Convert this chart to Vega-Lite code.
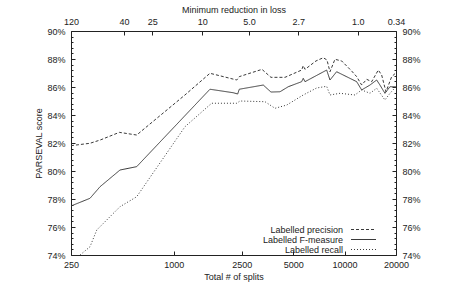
{
  "$schema": "https://vega.github.io/schema/vega-lite/v6.json",
  "width": 325,
  "height": 224,
  "autosize": {"type": "none"},
  "padding": {"left": 71, "top": 31, "right": 71, "bottom": 29},
  "background": "white",
  "config": {
    "font": "Liberation Sans",
    "view": {"stroke": "#222", "strokeWidth": 1},
    "axis": {
      "labelFont": "Liberation Sans", "labelFontSize": 9, "labelColor": "#222",
      "titleFont": "Liberation Sans", "titleFontSize": 9, "titleFontWeight": "normal", "titleColor": "#222",
      "grid": false, "domain": false, "tickColor": "#222", "tickWidth": 1, "tickSize": -4,
      "labelFlush": false, "labelOverlap": false, "labelPadding": 9, "titlePadding": 3
    },
    "axisY": {"labelPadding": 10},
    "legend": {
      "labelFont": "Liberation Sans", "labelFontSize": 9, "labelColor": "#222"
    }
  },
  "datasets": {
    "scores": [
      {"series": "Labelled precision", "splits": 250, "score": 81.81},
      {"series": "Labelled precision", "splits": 323, "score": 81.98},
      {"series": "Labelled precision", "splits": 370, "score": 82.21},
      {"series": "Labelled precision", "splits": 480, "score": 82.76},
      {"series": "Labelled precision", "splits": 606, "score": 82.57},
      {"series": "Labelled precision", "splits": 1162, "score": 85.43},
      {"series": "Labelled precision", "splits": 1628, "score": 86.98},
      {"series": "Labelled precision", "splits": 2336, "score": 86.5},
      {"series": "Labelled precision", "splits": 2417, "score": 86.74},
      {"series": "Labelled precision", "splits": 3283, "score": 87.26},
      {"series": "Labelled precision", "splits": 3705, "score": 86.69},
      {"series": "Labelled precision", "splits": 4476, "score": 86.69},
      {"series": "Labelled precision", "splits": 5605, "score": 87.21},
      {"series": "Labelled precision", "splits": 5727, "score": 87.52},
      {"series": "Labelled precision", "splits": 5863, "score": 87.26},
      {"series": "Labelled precision", "splits": 6799, "score": 87.86},
      {"series": "Labelled precision", "splits": 7501, "score": 88.09},
      {"series": "Labelled precision", "splits": 7885, "score": 87.93},
      {"series": "Labelled precision", "splits": 8212, "score": 87.09},
      {"series": "Labelled precision", "splits": 8780, "score": 87.98},
      {"series": "Labelled precision", "splits": 9612, "score": 87.86},
      {"series": "Labelled precision", "splits": 11000, "score": 87.14},
      {"series": "Labelled precision", "splits": 11767, "score": 86.74},
      {"series": "Labelled precision", "splits": 12588, "score": 86.14},
      {"series": "Labelled precision", "splits": 13470, "score": 86.55},
      {"series": "Labelled precision", "splits": 14410, "score": 86.38},
      {"series": "Labelled precision", "splits": 15750, "score": 87.21},
      {"series": "Labelled precision", "splits": 16480, "score": 86.86},
      {"series": "Labelled precision", "splits": 17470, "score": 85.66},
      {"series": "Labelled precision", "splits": 18870, "score": 86.74},
      {"series": "Labelled precision", "splits": 20000, "score": 87.02},

      {"series": "Labelled F-measure", "splits": 250, "score": 77.5},
      {"series": "Labelled F-measure", "splits": 323, "score": 78.05},
      {"series": "Labelled F-measure", "splits": 370, "score": 78.88},
      {"series": "Labelled F-measure", "splits": 484, "score": 80.07},
      {"series": "Labelled F-measure", "splits": 606, "score": 80.31},
      {"series": "Labelled F-measure", "splits": 1628, "score": 85.84},
      {"series": "Labelled F-measure", "splits": 2229, "score": 85.59},
      {"series": "Labelled F-measure", "splits": 2366, "score": 85.5},
      {"series": "Labelled F-measure", "splits": 2417, "score": 85.84},
      {"series": "Labelled F-measure", "splits": 3341, "score": 86.14},
      {"series": "Labelled F-measure", "splits": 3705, "score": 85.64},
      {"series": "Labelled F-measure", "splits": 4185, "score": 85.66},
      {"series": "Labelled F-measure", "splits": 4680, "score": 86.02},
      {"series": "Labelled F-measure", "splits": 5605, "score": 86.38},
      {"series": "Labelled F-measure", "splits": 5727, "score": 86.62},
      {"series": "Labelled F-measure", "splits": 5863, "score": 86.38},
      {"series": "Labelled F-measure", "splits": 7853, "score": 87.21},
      {"series": "Labelled F-measure", "splits": 8212, "score": 86.5},
      {"series": "Labelled F-measure", "splits": 8980, "score": 87.09},
      {"series": "Labelled F-measure", "splits": 11767, "score": 86.38},
      {"series": "Labelled F-measure", "splits": 12588, "score": 85.79},
      {"series": "Labelled F-measure", "splits": 14080, "score": 86.14},
      {"series": "Labelled F-measure", "splits": 15410, "score": 86.5},
      {"series": "Labelled F-measure", "splits": 16110, "score": 86.14},
      {"series": "Labelled F-measure", "splits": 17230, "score": 85.55},
      {"series": "Labelled F-measure", "splits": 18440, "score": 86.02},
      {"series": "Labelled F-measure", "splits": 20000, "score": 86.02},

      {"series": "Labelled recall", "splits": 250, "score": 73.46},
      {"series": "Labelled recall", "splits": 323, "score": 74.59},
      {"series": "Labelled recall", "splits": 354, "score": 75.79},
      {"series": "Labelled recall", "splits": 484, "score": 77.45},
      {"series": "Labelled recall", "splits": 606, "score": 78.16},
      {"series": "Labelled recall", "splits": 1162, "score": 83.16},
      {"series": "Labelled recall", "splits": 1666, "score": 84.84},
      {"series": "Labelled recall", "splits": 2336, "score": 84.84},
      {"series": "Labelled recall", "splits": 2440, "score": 85.0},
      {"series": "Labelled recall", "splits": 3418, "score": 84.95},
      {"series": "Labelled recall", "splits": 3912, "score": 84.48},
      {"series": "Labelled recall", "splits": 4579, "score": 84.71},
      {"series": "Labelled recall", "splits": 5727, "score": 85.43},
      {"series": "Labelled recall", "splits": 6862, "score": 85.93},
      {"series": "Labelled recall", "splits": 7853, "score": 86.05},
      {"series": "Labelled recall", "splits": 8212, "score": 85.43},
      {"series": "Labelled recall", "splits": 9396, "score": 85.55},
      {"series": "Labelled recall", "splits": 11500, "score": 85.43},
      {"series": "Labelled recall", "splits": 12588, "score": 85.79},
      {"series": "Labelled recall", "splits": 14080, "score": 85.55},
      {"series": "Labelled recall", "splits": 15410, "score": 85.91},
      {"series": "Labelled recall", "splits": 17230, "score": 85.07},
      {"series": "Labelled recall", "splits": 18440, "score": 85.55},
      {"series": "Labelled recall", "splits": 20000, "score": 86.02}
    ]
  },
  "layer": [
    {
      "data": {"name": "scores"},
      "mark": {"type": "line", "clip": true, "strokeWidth": 1, "color": "#3a3a3a"},
      "encoding": {
        "x": {
          "field": "splits", "type": "quantitative",
          "scale": {"type": "log", "domain": [250, 20000], "nice": false},
          "axis": {"orient": "bottom", "values": [250, 1000, 2500, 5000, 10000, 20000], "format": "d", "title": "Total # of splits"}
        },
        "y": {
          "field": "score", "type": "quantitative",
          "scale": {"domain": [74, 90], "nice": false, "zero": false},
          "axis": {
            "orient": "left",
            "values": [74, 74.4, 74.8, 75.2, 75.6, 76, 76.4, 76.8, 77.2, 77.6, 78, 78.4, 78.8, 79.2, 79.6, 80, 80.4, 80.8, 81.2, 81.6, 82, 82.4, 82.8, 83.2, 83.6, 84, 84.4, 84.8, 85.2, 85.6, 86, 86.4, 86.8, 87.2, 87.6, 88, 88.4, 88.8, 89.2, 89.6, 90],
            "labelExpr": "abs(datum.value - round(datum.value)) < 0.01 ? round(datum.value) + '%' : ''",
            "tickSize": {"condition": {"test": "abs(datum.value - round(datum.value)) < 0.01", "value": -4}, "value": -2},
            "title": "PARSEVAL score"
          }
        },
        "strokeDash": {
          "field": "series", "type": "nominal",
          "scale": {"domain": ["Labelled precision", "Labelled F-measure", "Labelled recall"], "range": [[3, 2], [1, 0], [1, 2]]},
          "legend": {
            "title": null, "orient": "none", "legendX": 188, "legendY": 194,
            "symbolType": "M-5,0H5", "symbolSize": 25, "symbolStrokeWidth": 1,
            "symbolStrokeColor": "#3a3a3a", "symbolFillColor": "transparent",
            "labelFontSize": 9, "labelAlign": "right", "labelOffset": -25, "symbolOffset": 100,
            "rowPadding": -1.3, "padding": 0
          }
        }
      }
    },
    {
      "data": {"name": "scores"},
      "mark": {"type": "line", "opacity": 0},
      "encoding": {
        "x": {
          "field": "splits", "type": "quantitative",
          "scale": {"type": "log", "domain": [250, 20000], "nice": false},
          "axis": {
            "orient": "top", "values": [250, 511, 748, 1468, 2755, 5355, 11930, 20000],
            "labelExpr": "datum.value < 300 ? '120' : datum.value < 600 ? '40' : datum.value < 1000 ? '25' : datum.value < 2000 ? '10' : datum.value < 4000 ? '5.0' : datum.value < 8000 ? '2.7' : datum.value < 15000 ? '1.0' : '0.34'",
            "title": "Minimum reduction in loss"
          }
        },
        "y": {
          "field": "score", "type": "quantitative",
          "scale": {"domain": [74, 90], "nice": false, "zero": false},
          "axis": {
            "orient": "right",
            "values": [74, 74.4, 74.8, 75.2, 75.6, 76, 76.4, 76.8, 77.2, 77.6, 78, 78.4, 78.8, 79.2, 79.6, 80, 80.4, 80.8, 81.2, 81.6, 82, 82.4, 82.8, 83.2, 83.6, 84, 84.4, 84.8, 85.2, 85.6, 86, 86.4, 86.8, 87.2, 87.6, 88, 88.4, 88.8, 89.2, 89.6, 90],
            "labelExpr": "abs(datum.value - round(datum.value)) < 0.01 ? round(datum.value) + '%' : ''",
            "tickSize": {"condition": {"test": "abs(datum.value - round(datum.value)) < 0.01", "value": -4}, "value": -2},
            "title": null
          }
        },
        "detail": {"field": "series", "type": "nominal"}
      }
    }
  ],
  "resolve": {"scale": {"x": "independent", "y": "independent"}}
}
